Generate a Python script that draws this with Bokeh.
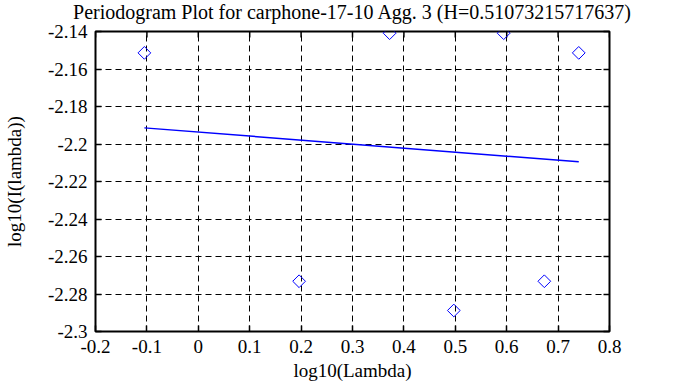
from bokeh.plotting import figure
from bokeh.models import LinearAxis, Range1d, FixedTicker, CustomJSTickFormatter, Title
from bokeh.embed import file_html
from bokeh.resources import INLINE

# data
log_lambda = [-0.1049, 0.1961, 0.3722, 0.4971, 0.5941, 0.6732, 0.7402]
log_I = [-2.1514, -2.2732, -2.1409, -2.2888, -2.1409, -2.2732, -2.1514]
fit_x = [-0.1049, 0.7402]
fit_y = [-2.1914, -2.2095]
x_ticks = [-0.2, -0.1, 0.0, 0.1, 0.2, 0.3, 0.4, 0.5, 0.6, 0.7, 0.8]
x_tick_labels = ["-0.2", "-0.1", "0", "0.1", "0.2", "0.3", "0.4", "0.5", "0.6", "0.7", "0.8"]
y_ticks = [-2.3, -2.28, -2.26, -2.24, -2.22, -2.2, -2.18, -2.16, -2.14]
y_tick_labels = ["-2.3", "-2.28", "-2.26", "-2.24", "-2.22", "-2.2", "-2.18", "-2.16", "-2.14"]
title_text = "Periodogram Plot for carphone-17-10 Agg. 3 (H=0.51073215717637)"
x_label = "log10(Lambda)"
y_label = "log10(I(lambda))"

FONT = "Liberation Serif"
TICK_FONT = "Times"
BLUE = "#0000ff"

X0, X1 = -0.2, 0.8
Y0, Y1 = -2.3, -2.14
FRAME_H = 300  # px

p = figure(width=673, height=387,
           x_range=Range1d(X0, X1), y_range=Range1d(Y0, Y1),
           output_backend="svg", toolbar_location=None,
           min_border_left=92, min_border_right=64,
           min_border_top=31, min_border_bottom=56,
           background_fill_color="white", border_fill_color="white")

# small spacer between the frame and the title, so the title sits near the top edge
p.add_layout(Title(text=" ", text_font_size="1px", standoff=4), "above")

p.title.text = title_text
p.title.align = "center"
p.title.vertical_align = "top"
p.title.text_font = FONT
p.title.text_font_size = "20px"
p.title.text_font_style = "normal"
p.title.text_color = "black"
p.title.standoff = 0

p.outline_line_color = "black"
p.outline_line_width = 2
p.outline_line_alpha = 1.0

# mirrored ticks on the right (no labels)
rax = LinearAxis(ticker=FixedTicker(ticks=y_ticks),
                 formatter=CustomJSTickFormatter(code="return '';"),
                 major_label_text_font_size="1px",
                 major_label_standoff=0,
                 major_tick_in=6, major_tick_out=0,
                 major_tick_line_color="black", major_tick_line_width=1.5,
                 minor_tick_line_color=None, axis_line_color=None)
p.add_layout(rax, "right")

xax = p.below[0]
yax = p.left[0]
xax.ticker = FixedTicker(ticks=x_ticks)
xax.major_label_overrides = dict(zip(x_ticks, x_tick_labels))
yax.ticker = FixedTicker(ticks=y_ticks)
yax.major_label_overrides = dict(zip(y_ticks, y_tick_labels))

for ax in (xax, yax):
    ax.major_label_text_font = TICK_FONT
    ax.major_label_text_font_style = "normal"
    ax.major_label_text_font_size = "19px"
    ax.major_label_text_color = "black"
    ax.axis_label_text_font = FONT
    ax.axis_label_text_font_size = "19px"
    ax.axis_label_text_font_style = "normal"
    ax.axis_label_text_color = "black"
    ax.major_tick_in = 6
    ax.major_tick_out = 0
    ax.major_tick_line_color = "black"
    ax.major_tick_line_width = 1.5
    ax.minor_tick_line_color = None
    ax.axis_line_color = None

xax.axis_label = x_label
yax.axis_label = y_label
xax.major_label_standoff = 8
xax.axis_label_standoff = 4
yax.major_label_standoff = 8
yax.axis_label_standoff = 20

for g, ticks in ((p.xgrid[0], x_ticks), (p.ygrid[0], y_ticks)):
    g.ticker = FixedTicker(ticks=ticks)
    g.grid_line_color = "black"
    g.grid_line_dash = "6 4"
    g.grid_line_width = 1

# mirrored tick marks along the top border (6 px long)
tick_len = 6 * (Y1 - Y0) / FRAME_H
p.segment(x0=x_ticks, y0=[Y1] * len(x_ticks), x1=x_ticks,
          y1=[Y1 - tick_len] * len(x_ticks), line_color="black", line_width=1.5)

p.line(fit_x, fit_y, line_color=BLUE, line_width=1.5)
p.scatter(log_lambda, log_I, marker="square", angle=0.785398, size=9,
          line_color=BLUE, line_width=1, fill_color=None)

open("out.html", "w").write(file_html(p, INLINE))
